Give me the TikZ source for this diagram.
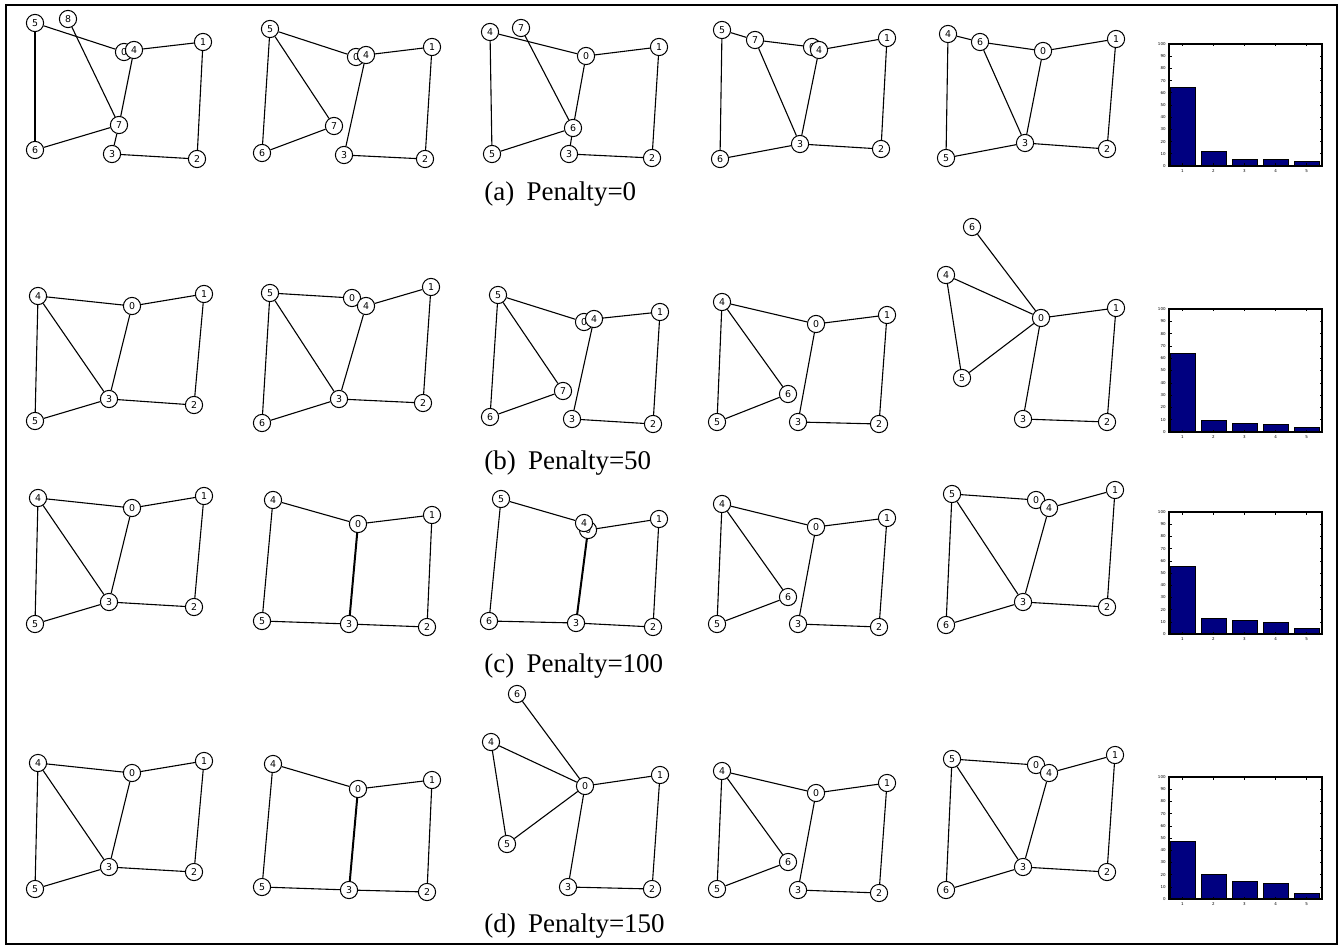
\documentclass[tikz,border=0pt]{standalone}
\usepackage{fontspec}
\setmainfont{Liberation Serif}
\newfontfamily\lblfont{DejaVu Sans}
\pgfdeclarelayer{edgelayer}
\pgfsetlayers{edgelayer,main}
\tikzset{
  gn/.style={circle, draw, fill=white, inner sep=0pt, minimum size=8.6pt, line width=0.5pt,
    font=\lblfont\fontsize{4.7}{5}\selectfont},
  ge/.style={line width=0.55pt},
  gethick/.style={line width=1pt},
  barsty/.style={draw=black, fill={rgb,255:red,0;green,0;blue,128}, line width=0.5pt},
  axsty/.style={line width=0.8pt},
  ticksty/.style={line width=0.3pt},
  ticklab/.style={inner sep=0.5pt, font=\lblfont\fontsize{2}{2}\selectfont},
  capsty/.style={anchor=base west, inner sep=0pt, font=\fontsize{13.5}{16}\selectfont},
  framesty/.style={line width=1.1pt}
}
\newcommand\mygraph[3]{%
  \foreach \n/\xx/\yy in {#2} \node[gn] (#1-\n) at (\xx,\yy) {\n};
  \begin{pgfonlayer}{edgelayer}
  \foreach \u/\v in {#3} \draw[ge] (#1-\u) -- (#1-\v);
  \end{pgfonlayer}}
\newcommand\mybarchart[3]{%
  \foreach \t [count=\i] in {#3} {
    \pgfmathsetmacro\xl{1170+31*(\i-1)}
    \draw[barsty] (\xl,#2) rectangle (\xl+25,\t);
  }
  \foreach \k in {0,...,10} {
    \pgfmathsetmacro\yy{#2-(#2-#1)*\k/10}
    \pgfmathtruncatemacro\lab{\k*10}
    \draw[ticksty] (1169,\yy) -- ++(2.5,0);
    \draw[ticksty] (1322,\yy) -- ++(-2.5,0);
    \node[ticklab, anchor=east] at (1167,\yy) {\lab};
  }
  \foreach \i in {1,...,5} {
    \pgfmathsetmacro\xc{1182.5+31*(\i-1)}
    \draw[ticksty] (\xc,#2) -- ++(0,-2.5);
    \draw[ticksty] (\xc,#1) -- ++(0,2.5);
    \node[ticklab, anchor=north] at (\xc,#2+2) {\i};
  }
  \draw[axsty] (1169,#1) rectangle (1322,#2);}
\begin{document}
\begin{tikzpicture}[x=0.5pt, y=-0.5pt]
\useasboundingbox (0,0) rectangle (1342,946);
\draw[framesty] (6,5) rectangle (1337,944);

% ---------------- row (a)
\mygraph{a1}{0/124/52,1/203/42,2/197/159,3/112/154,4/134/50,5/35/23,6/35/150,7/119/125,8/68/19}
  {5/0,5/6,8/7,4/1,4/7,7/6,7/3,3/2,1/2}
\mygraph{a2}{0/356/57,1/432/47,2/425/159,3/344/155,4/366/55,5/270/29,6/262/153,7/334/126}
  {5/0,5/6,5/7,7/6,4/1,4/3,3/2,1/2}
\mygraph{a3}{0/586/56,1/659/47,2/652/158,3/569/154,4/490/32,5/492/154,6/573/128,7/521/28}
  {4/0,4/5,7/6,0/1,0/6,6/5,6/3,3/2,1/2}
\mygraph{a4}{0/812/47,1/887/38,2/881/149,3/800/144,4/819/50,5/722/30,6/720/159,7/755/40}
  {5/7,5/6,7/0,7/3,4/1,4/3,3/6,3/2,1/2}
\mygraph{a5}{0/1043/51,1/1116/39,2/1107/149,3/1025/143,4/948/34,5/946/158,6/980/42}
  {4/6,4/5,6/0,6/3,0/1,0/3,3/5,3/2,1/2}
\mybarchart{44}{166}{88,152,160,160,162}
\node[capsty] (capa) at (484,201) {(a)\hspace{0.45em}Penalty=0};

% ---------------- row (b)
\mygraph{b1}{0/132/306,1/204/294,2/194/405,3/109/399,4/38/296,5/35/421}
  {4/0,4/5,4/3,0/1,0/3,3/5,3/2,1/2}
\mygraph{b2}{0/352/298,1/431/287,2/423/403,3/339/399,4/366/306,5/270/293,6/262/423}
  {5/0,5/6,5/3,4/1,4/3,3/6,3/2,1/2}
\mygraph{b3}{0/584/322,1/660/312,2/653/424,3/572/419,4/594/319,5/498/295,6/490/417,7/563/391}
  {5/0,5/6,5/7,7/6,4/1,4/3,3/2,1/2}
\mygraph{b4}{0/816/324,1/887/315,2/879/424,3/798/422,4/722/302,5/717/422,6/788/394}
  {4/0,4/5,4/6,6/5,0/1,0/3,3/2,1/2}
\mygraph{b5}{0/1041/318,1/1116/308,2/1107/422,3/1023/419,4/946/275,5/962/378,6/972/227}
  {6/0,4/0,4/5,5/0,0/1,0/3,3/2,1/2}
\mybarchart{309}{432}{353,420,423,424,427}
\node[capsty] (capb) at (484,469) {(b)\hspace{0.45em}Penalty=50};

% ---------------- row (c)
\mygraph{c1}{0/132/508,1/204/496,2/194/607,3/109/602,4/38/498,5/35/624}
  {4/0,4/5,4/3,0/1,0/3,3/5,3/2,1/2}
\mygraph{c2}{0/358/524,1/432/515,2/427/627,3/349/624,4/273/500,5/262/621}
  {4/0,4/5,0/1,5/3,3/2,1/2}
\begin{pgfonlayer}{edgelayer}\draw[gethick] (c2-0) -- (c2-3);\end{pgfonlayer}
\mygraph{c3}{0/588/530,1/659/519,2/653/627,3/576/623,4/584/523,5/501/499,6/489/621}
  {5/4,5/6,0/1,6/3,3/2,1/2}
\begin{pgfonlayer}{edgelayer}\draw[gethick] (c3-0) -- (c3-3);\end{pgfonlayer}
\mygraph{c4}{0/816/527,1/887/518,2/879/627,3/798/624,4/722/504,5/717/624,6/788/597}
  {4/0,4/5,4/6,6/5,0/1,0/3,3/2,1/2}
\mygraph{c5}{0/1036/500,1/1115/490,2/1107/607,3/1023/602,4/1049/508,5/952/494,6/946/625}
  {5/0,5/6,5/3,4/1,4/3,3/6,3/2,1/2}
\mybarchart{512}{634}{566,618,620,622,628}
\node[capsty] (capc) at (484,672) {(c)\hspace{0.45em}Penalty=100};

% ---------------- row (d)
\mygraph{d1}{0/132/773,1/204/761,2/194/872,3/109/867,4/38/763,5/35/889}
  {4/0,4/5,4/3,0/1,0/3,3/5,3/2,1/2}
\mygraph{d2}{0/358/789,1/432/780,2/427/892,3/349/890,4/273/764,5/262/887}
  {4/0,4/5,0/1,5/3,3/2,1/2}
\begin{pgfonlayer}{edgelayer}\draw[gethick] (d2-0) -- (d2-3);\end{pgfonlayer}
\mygraph{d3}{0/585/786,1/660/775,2/652/889,3/568/887,4/491/742,5/507/844,6/517/694}
  {6/0,4/0,4/5,5/0,0/1,0/3,3/2,1/2}
\mygraph{d4}{0/816/793,1/887/783,2/879/893,3/798/890,4/722/771,5/717/889,6/788/862}
  {4/0,4/5,4/6,6/5,0/1,0/3,3/2,1/2}
\mygraph{d5}{0/1036/765,1/1115/755,2/1107/872,3/1023/867,4/1049/773,5/952/759,6/946/890}
  {5/0,5/6,5/3,4/1,4/3,3/6,3/2,1/2}
\mybarchart{777}{899}{841,874,881,883,893}
\node[capsty] (capd) at (484,932) {(d)\hspace{0.45em}Penalty=150};
\end{tikzpicture}
\end{document}
